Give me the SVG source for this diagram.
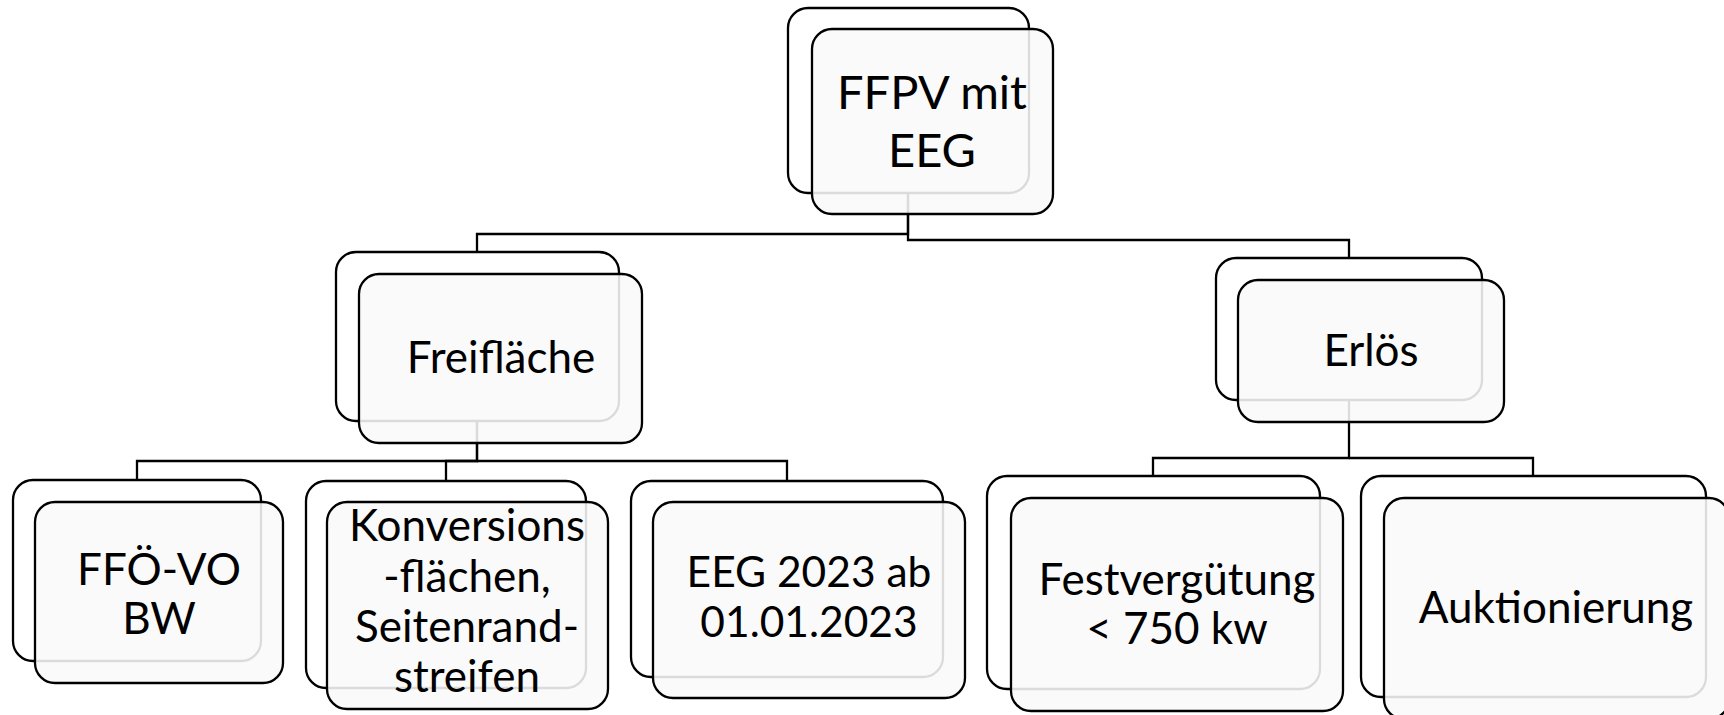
<svg xmlns="http://www.w3.org/2000/svg" width="1724" height="715" viewBox="0 0 1724 715">
<style>
.bg{fill:#ffffff;stroke:#000;stroke-width:2.3}
.fg{fill:#f9f9f9;fill-opacity:0.88;stroke:#000;stroke-width:2.3}
.conn{fill:none;stroke:#000;stroke-width:2.3}
.t{font-family:Lato,"Open Sans","Liberation Sans",sans-serif;font-size:44px;fill:#000;text-anchor:middle}
.tt{font-size:47px}
.ts{font-size:42.5px}
</style>
<rect width="1724" height="715" fill="#ffffff"/>
<g id="connectors">
<path class="conn" d="M908 193 V234 H477 V252"/>
<path class="conn" d="M908 193 V240 H1349 V258"/>
<path class="conn" d="M477 421 V461 H137 V480"/>
<path class="conn" d="M477 421 V461 H446 V481"/>
<path class="conn" d="M477 461 H787 V481"/>
<path class="conn" d="M1349 400 V458 H1153 V476"/>
<path class="conn" d="M1349 458 H1533 V476"/>
</g>
<g id="n-root">
<rect class="bg" x="788" y="8" width="241" height="185" rx="20"/>
<rect class="fg" x="812" y="29" width="241" height="185" rx="20"/>
<text class="t tt" x="932" y="109">FFPV mit</text>
<text class="t tt" x="932" y="167">EEG</text>
</g>
<g id="n-freiflaeche">
<rect class="bg" x="336" y="252" width="283" height="169" rx="20"/>
<rect class="fg" x="359" y="274" width="283" height="169" rx="20"/>
<text class="t" x="501" y="373">Freifläche</text>
</g>
<g id="n-erloes">
<rect class="bg" x="1216" y="258" width="266" height="142" rx="20"/>
<rect class="fg" x="1238" y="280" width="266" height="142" rx="20"/>
<text class="t" x="1371" y="366">Erlös</text>
</g>
<g id="n-ffoevo">
<rect class="bg" x="13" y="480" width="248" height="181" rx="20"/>
<rect class="fg" x="35" y="502" width="248" height="181" rx="20"/>
<text class="t" x="159" y="585">FFÖ-VO</text>
<text class="t" x="159" y="634">BW</text>
</g>
<g id="n-konversion">
<rect class="bg" x="306" y="481" width="280" height="207" rx="20"/>
<rect class="fg" x="327" y="502" width="281" height="207" rx="20"/>
<text class="t" x="467" y="541">Konversions</text>
<text class="t" x="467" y="592">-flächen,</text>
<text class="t" x="467" y="642">Seitenrand-</text>
<text class="t" x="467" y="692">streifen</text>
</g>
<g id="n-eeg2023">
<rect class="bg" x="631" y="481" width="312" height="196" rx="20"/>
<rect class="fg" x="653" y="502" width="312" height="196" rx="20"/>
<text class="t ts" x="809" y="587">EEG 2023 ab</text>
<text class="t ts" x="809" y="637">01.01.2023</text>
</g>
<g id="n-festverguetung">
<rect class="bg" x="987" y="476" width="333" height="213" rx="20"/>
<rect class="fg" x="1011" y="498" width="332" height="213" rx="20"/>
<text class="t" x="1177" y="595">Festvergütung</text>
<text class="t" x="1177" y="644">&lt; 750 kw</text>
</g>
<g id="n-auktionierung">
<rect class="bg" x="1361" y="476" width="345" height="221" rx="20"/>
<rect class="fg" x="1384" y="498" width="345" height="221" rx="20"/>
<text class="t" x="1556" y="623">Auktionierung</text>
</g>
</svg>
